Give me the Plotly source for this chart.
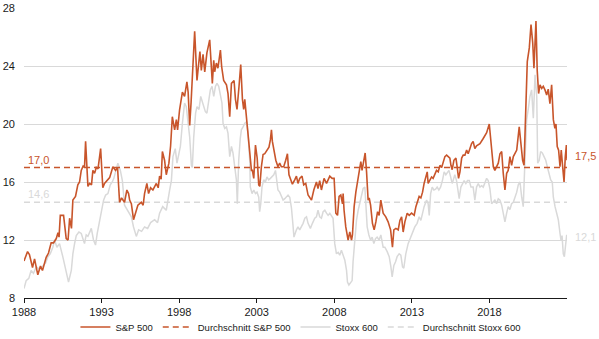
import plotly.graph_objects as go

# ---------------- data (decimal years, P/E values) ----------------
sp_years = [
    1988.00, 1988.23, 1988.35, 1988.55, 1988.68, 1988.89, 1989.06, 1989.19, 1989.43, 1989.58,
    1989.75, 1989.90, 1990.08, 1990.19, 1990.26, 1990.34, 1990.55, 1990.72, 1990.84, 1990.94,
    1991.06, 1991.15, 1991.32, 1991.47, 1991.58, 1991.69, 1991.81, 1991.90, 1991.97, 1992.12,
    1992.23, 1992.35, 1992.44, 1992.55, 1992.66, 1992.77, 1992.94, 1993.08, 1993.19, 1993.39,
    1993.52, 1993.73, 1993.90, 1994.03, 1994.16, 1994.29, 1994.48, 1994.63, 1994.74, 1994.81,
    1994.92, 1995.06, 1995.19, 1995.34, 1995.56, 1995.68, 1995.77, 1995.92, 1996.03, 1996.16,
    1996.31, 1996.53, 1996.65, 1996.74, 1996.84, 1996.92, 1997.06, 1997.17, 1997.34, 1997.45,
    1997.56, 1997.71, 1997.82, 1997.90, 1998.03, 1998.21, 1998.35, 1998.50, 1998.58, 1998.68,
    1998.77, 1998.85, 1999.00, 1999.15, 1999.25, 1999.34, 1999.43, 1999.54, 1999.65, 1999.79,
    1999.97, 2000.03, 2000.14, 2000.23, 2000.29, 2000.40, 2000.50, 2000.66, 2000.74, 2000.87,
    2001.05, 2001.15, 2001.26, 2001.37, 2001.54, 2001.63, 2001.73, 2001.86, 2001.97, 2002.08,
    2002.16, 2002.23, 2002.34, 2002.48, 2002.55, 2002.66, 2002.72, 2002.81, 2002.92, 2003.03,
    2003.13, 2003.20, 2003.30, 2003.41, 2003.52, 2003.69, 2003.79, 2003.88, 2003.95, 2004.01,
    2004.10, 2004.23, 2004.37, 2004.48, 2004.59, 2004.74, 2004.87, 2004.98, 2005.08, 2005.17,
    2005.30, 2005.45, 2005.56, 2005.66, 2005.77, 2005.92, 2006.03, 2006.16, 2006.31, 2006.53,
    2006.68, 2006.85, 2006.95, 2007.06, 2007.17, 2007.34, 2007.50, 2007.71, 2007.86, 2007.99,
    2008.10, 2008.21, 2008.31, 2008.42, 2008.53, 2008.57, 2008.63, 2008.74, 2008.89, 2009.00,
    2009.11, 2009.17, 2009.28, 2009.39, 2009.50, 2009.60, 2009.71, 2009.79, 2009.90, 2009.99,
    2010.08, 2010.18, 2010.25, 2010.34, 2010.46, 2010.57, 2010.68, 2010.79, 2010.89, 2011.00,
    2011.15, 2011.32, 2011.47, 2011.63, 2011.75, 2011.84, 2011.97, 2012.12, 2012.23, 2012.34,
    2012.44, 2012.55, 2012.70, 2012.83, 2012.98, 2013.15, 2013.26, 2013.37, 2013.47, 2013.58,
    2013.69, 2013.79, 2013.90, 2013.99, 2014.05, 2014.16, 2014.27, 2014.37, 2014.48, 2014.59,
    2014.70, 2014.81, 2014.92, 2015.02, 2015.13, 2015.24, 2015.34, 2015.45, 2015.52, 2015.60,
    2015.71, 2015.84, 2015.92, 2016.01, 2016.10, 2016.21, 2016.31, 2016.42, 2016.53, 2016.63,
    2016.74, 2016.85, 2016.95, 2017.06, 2017.17, 2017.39, 2017.60, 2017.82, 2017.99, 2018.07,
    2018.16, 2018.25, 2018.35, 2018.46, 2018.57, 2018.68, 2018.79, 2018.89, 2019.00, 2019.11,
    2019.21, 2019.32, 2019.43, 2019.54, 2019.65, 2019.76, 2019.92, 2020.01, 2020.14, 2020.23,
    2020.35, 2020.44, 2020.57, 2020.68, 2020.79, 2020.87, 2021.00, 2021.08, 2021.17, 2021.26,
    2021.37, 2021.47, 2021.58, 2021.69, 2021.79, 2021.90, 2022.01, 2022.12, 2022.22, 2022.29,
    2022.37, 2022.46, 2022.55, 2022.63, 2022.72, 2022.81, 2022.89, 2022.96, 2023.00,
]
sp_values = [
    10.56, 11.2, 11.0, 10.1, 10.7, 9.6, 10.2, 9.9, 10.8, 11.1,
    11.8, 11.8, 12.1, 12.5, 12.2, 13.7, 13.7, 12.1, 12.0, 13.5,
    12.8, 14.75, 15.0, 15.8, 16.0, 16.8, 17.1, 17.0, 18.8, 15.7,
    15.9, 15.8, 16.8, 16.6, 17.0, 16.9, 18.3, 15.6, 15.9, 16.1,
    16.3, 17.05, 16.8, 17.0, 14.6, 14.9, 14.6, 15.45, 15.2, 14.75,
    14.5, 13.4, 13.8, 14.4, 14.6, 14.4, 15.2, 15.9, 15.2, 15.6,
    15.45, 15.9, 15.6, 16.4, 16.2, 18.1, 17.5, 16.5, 17.3, 18.5,
    20.5, 19.6, 20.3, 19.6, 21.0, 22.2, 21.9, 22.9, 22.2, 19.9,
    21.5, 23.5, 26.4, 23.0, 23.9, 25.0, 23.7, 24.8, 23.6, 24.9,
    25.8, 24.65, 22.8, 24.4, 23.6, 24.2, 23.85, 25.1, 23.96, 23.0,
    22.7, 22.1, 20.5, 22.8, 23.0, 21.7, 21.0, 22.6, 24.1, 21.7,
    21.0, 21.7, 20.3, 18.9, 17.75, 16.8, 16.8, 16.25, 18.55, 17.65,
    15.8, 15.7, 17.05, 17.9, 17.95, 18.2, 18.4, 18.9, 19.6, 18.8,
    18.3, 17.5, 17.05, 17.3, 17.05, 17.05, 17.5, 17.95, 16.5, 16.25,
    15.85, 16.15, 16.4, 15.9, 16.25, 16.4, 15.8, 15.9, 15.1, 14.75,
    15.45, 16.0, 15.55, 16.1, 15.45, 16.25, 15.9, 16.4, 16.25, 16.25,
    13.85, 13.7, 15.0, 15.1, 14.5, 15.2, 14.05, 12.9, 12.0, 12.55,
    12.0, 12.35, 14.3, 15.3, 16.15, 16.7, 17.4, 16.8, 17.6, 18.0,
    16.7, 14.75, 14.9, 14.4, 13.15, 12.7, 13.25, 13.95, 13.7, 14.75,
    13.85, 13.6, 13.25, 12.7, 11.5, 12.7, 12.8, 12.7, 13.35, 13.6,
    12.55, 13.25, 13.85, 13.7, 13.85, 13.7, 14.3, 14.75, 15.0, 14.9,
    15.3, 15.9, 16.35, 16.7, 15.9, 16.15, 16.35, 16.25, 16.6, 16.8,
    16.7, 17.15, 17.0, 17.3, 17.75, 17.85, 17.75, 17.65, 17.15, 16.85,
    17.5, 17.65, 17.05, 16.25, 16.7, 17.65, 17.85, 17.85, 18.2, 17.95,
    18.3, 18.65, 18.8, 18.3, 18.5, 18.65, 19.0, 19.4, 20.0, 19.1,
    17.75, 17.05, 16.8, 17.05, 17.3, 17.95, 18.1, 16.6, 15.45, 16.6,
    16.8, 17.75, 17.15, 17.75, 17.95, 18.2, 19.8, 18.9, 17.5, 17.15,
    21.7, 24.3, 25.25, 26.85, 25.6, 23.85, 27.1, 23.7, 22.1, 22.7,
    22.45, 22.6, 22.35, 22.0, 22.4, 21.4, 22.7, 20.3, 19.7, 20.0,
    18.45, 18.2, 17.05, 18.2, 17.05, 16.0, 17.75, 18.55, 17.5,
]

stoxx_years = [
    1988.00, 1988.14, 1988.31, 1988.46, 1988.61, 1988.79, 1989.00, 1989.21, 1989.39, 1989.54,
    1989.69, 1989.86, 1989.97, 1990.12, 1990.29, 1990.50, 1990.72, 1990.87, 1991.05, 1991.15,
    1991.26, 1991.37, 1991.54, 1991.69, 1991.90, 1992.01, 1992.12, 1992.23, 1992.34, 1992.48,
    1992.61, 1992.72, 1992.87, 1993.02, 1993.13, 1993.26, 1993.41, 1993.56, 1993.69, 1993.79,
    1993.94, 1994.05, 1994.21, 1994.34, 1994.48, 1994.70, 1994.92, 1995.06, 1995.24, 1995.39,
    1995.58, 1995.77, 1995.97, 1996.16, 1996.42, 1996.61, 1996.74, 1996.94, 1997.17, 1997.39,
    1997.50, 1997.60, 1997.75, 1997.86, 1997.97, 1998.08, 1998.21, 1998.35, 1998.46, 1998.57,
    1998.68, 1998.79, 1998.85, 1998.94, 1999.06, 1999.15, 1999.28, 1999.39, 1999.54, 1999.69,
    1999.79, 1999.90, 2000.01, 2000.12, 2000.23, 2000.34, 2000.44, 2000.55, 2000.66, 2000.76,
    2000.83, 2000.94, 2001.05, 2001.15, 2001.26, 2001.37, 2001.47, 2001.58, 2001.69, 2001.75,
    2001.84, 2001.94, 2002.01, 2002.12, 2002.23, 2002.34, 2002.44, 2002.55, 2002.59, 2002.70,
    2002.81, 2002.92, 2003.02, 2003.13, 2003.19, 2003.26, 2003.34, 2003.45, 2003.56, 2003.66,
    2003.77, 2003.88, 2003.99, 2004.10, 2004.21, 2004.27, 2004.37, 2004.48, 2004.59, 2004.70,
    2004.81, 2004.92, 2005.02, 2005.13, 2005.24, 2005.34, 2005.40, 2005.56, 2005.66, 2005.77,
    2005.88, 2005.99, 2006.10, 2006.21, 2006.31, 2006.46, 2006.59, 2006.74, 2006.85, 2006.95,
    2007.06, 2007.17, 2007.28, 2007.39, 2007.50, 2007.60, 2007.71, 2007.82, 2007.92, 2008.03,
    2008.14, 2008.25, 2008.35, 2008.46, 2008.57, 2008.68, 2008.79, 2008.85, 2008.94, 2009.05,
    2009.15, 2009.21, 2009.32, 2009.43, 2009.54, 2009.65, 2009.75, 2009.86, 2009.97, 2010.03,
    2010.12, 2010.23, 2010.34, 2010.44, 2010.55, 2010.66, 2010.76, 2010.89, 2011.00, 2011.15,
    2011.26, 2011.41, 2011.54, 2011.65, 2011.73, 2011.84, 2011.95, 2012.05, 2012.18, 2012.29,
    2012.40, 2012.48, 2012.61, 2012.76, 2012.92, 2013.05, 2013.19, 2013.34, 2013.47, 2013.58,
    2013.69, 2013.79, 2013.95, 2014.05, 2014.12, 2014.21, 2014.31, 2014.42, 2014.53, 2014.63,
    2014.74, 2014.85, 2014.98, 2015.08, 2015.19, 2015.30, 2015.39, 2015.50, 2015.60, 2015.66,
    2015.77, 2015.88, 2015.99, 2016.05, 2016.16, 2016.27, 2016.37, 2016.48, 2016.59, 2016.70,
    2016.81, 2016.95, 2017.06, 2017.17, 2017.28, 2017.39, 2017.50, 2017.60, 2017.71, 2017.82,
    2017.92, 2018.03, 2018.14, 2018.25, 2018.35, 2018.46, 2018.57, 2018.68, 2018.79, 2018.89,
    2019.00, 2019.11, 2019.21, 2019.32, 2019.43, 2019.54, 2019.65, 2019.76, 2019.86, 2019.97,
    2020.08, 2020.18, 2020.29, 2020.40, 2020.50, 2020.61, 2020.72, 2020.83, 2020.94, 2021.05,
    2021.11, 2021.21, 2021.30, 2021.41, 2021.52, 2021.63, 2021.73, 2021.84, 2021.95, 2022.05,
    2022.12, 2022.23, 2022.34, 2022.44, 2022.55, 2022.61, 2022.68, 2022.76, 2022.83, 2022.92,
    2022.98, 2023.00,
]
stoxx_values = [
    8.65, 9.2, 9.35, 9.9, 9.7, 10.15, 10.0, 10.25, 10.4, 10.85,
    11.05, 11.5, 12.0, 11.5, 11.75, 10.85, 9.7, 9.1, 9.9, 11.05,
    11.75, 12.3, 12.55, 12.45, 11.75, 12.35, 12.25, 12.55, 12.8, 12.0,
    11.65, 12.45, 13.35, 14.05, 14.75, 15.1, 15.2, 15.8, 16.0, 16.25,
    16.9, 17.3, 16.8, 16.1, 14.4, 13.95, 13.6, 12.9, 12.25, 12.7,
    12.6, 12.9, 12.8, 13.2, 13.4, 13.2, 13.85, 14.3, 14.05, 15.45,
    16.1, 17.75, 18.3, 17.3, 18.0, 18.45, 20.05, 21.45, 21.2, 20.3,
    19.1, 17.15, 17.0, 19.1, 20.75, 21.2, 21.0, 21.9, 21.3, 20.85,
    20.75, 21.45, 22.35, 22.6, 21.9, 22.6, 22.8, 22.6, 22.1, 21.45,
    20.05, 19.7, 19.8, 19.35, 17.75, 18.45, 18.0, 17.05, 16.15, 14.5,
    17.5, 19.0, 19.6, 19.8, 20.05, 20.15, 19.35, 17.5, 15.65, 15.2,
    15.45, 15.2, 15.3, 14.95, 13.95, 14.5, 15.65, 16.15, 16.0, 16.35,
    16.15, 16.25, 16.35, 16.5, 16.8, 16.25, 15.45, 15.3, 14.95, 14.75,
    14.85, 14.95, 15.1, 14.95, 14.2, 13.0, 12.2, 12.7, 12.9, 12.7,
    12.9, 13.15, 13.5, 13.6, 13.15, 12.8, 13.15, 13.5, 13.6, 14.05,
    13.6, 13.5, 13.95, 14.05, 13.85, 13.7, 13.85, 13.7, 13.5, 11.75,
    11.05, 11.15, 10.95, 11.3, 10.95, 10.6, 9.9, 9.1, 8.9, 9.1,
    9.2, 10.5, 12.2, 13.35, 14.05, 14.65, 15.2, 15.55, 15.65, 14.75,
    12.9, 12.35, 12.0, 12.2, 11.75, 12.1, 12.2, 12.0, 12.35, 11.5,
    11.5, 11.2, 10.85, 10.15, 9.45, 10.25, 10.5, 10.85, 11.05, 10.95,
    10.15, 10.05, 11.05, 11.75, 12.2, 12.45, 12.9, 13.15, 13.6, 13.35,
    13.85, 14.3, 14.75, 14.5, 13.7, 15.2, 15.65, 15.45, 15.5, 15.65,
    15.45, 15.65, 16.15, 16.7, 16.5, 16.7, 16.8, 16.35, 15.9, 16.1,
    16.5, 16.1, 15.45, 14.85, 15.65, 15.9, 16.1, 15.9, 16.1, 16.1,
    15.65, 15.65, 14.75, 15.65, 15.9, 15.65, 15.75, 15.65, 16.0, 16.25,
    16.1, 15.55, 14.5, 14.6, 14.75, 14.5, 14.85, 14.75, 14.4, 13.85,
    13.25, 13.85, 14.3, 14.1, 14.5, 14.6, 14.95, 15.3, 15.8, 16.0,
    14.95, 14.3, 17.5, 20.3, 21.0, 21.9, 22.35, 20.4, 23.4, 21.9,
    17.3, 17.5, 18.1, 18.0, 17.75, 17.5, 17.05, 16.6, 16.15, 16.0,
    14.95, 14.3, 13.85, 13.4, 12.45, 12.0, 12.3, 11.05, 10.85, 12.0,
    12.35, 12.1,
]

sp_avg = 17.0
stoxx_avg = 14.6
x_start, x_end = 1988, 2023
tick_years = [1988, 1993, 1998, 2003, 2008, 2013, 2018]
tick_labels = [str(t) for t in tick_years]

names = ["S&P 500", "Durchschnitt S&P 500", "Stoxx 600", "Durchschnitt Stoxx 600"]

# ---------------- style ----------------
ORANGE = "#C8552B"
GRAY = "#D9D9D9"
FONT = "Liberation Sans, Arial, sans-serif"


def de(v):
    return f"{v:.1f}".replace(".", ",")


fig = go.Figure()

fig.add_trace(go.Scatter(
    x=stoxx_years, y=stoxx_values, mode="lines", name=names[2],
    line=dict(color=GRAY, width=1.5), legendrank=3,
))
fig.add_trace(go.Scatter(
    x=[x_start, x_end], y=[stoxx_avg, stoxx_avg], mode="lines", name=names[3],
    line=dict(color=GRAY, width=1.5, dash="6px,4px"), legendrank=4,
))
fig.add_trace(go.Scatter(
    x=[x_start, x_end], y=[sp_avg, sp_avg], mode="lines", name=names[1],
    line=dict(color=ORANGE, width=1.5, dash="6px,4px"), legendrank=2,
))
fig.add_trace(go.Scatter(
    x=sp_years, y=sp_values, mode="lines", name=names[0],
    line=dict(color=ORANGE, width=1.6), legendrank=1,
))

annotations = [
    dict(x=x_start, y=sp_avg, xref="x", yref="y", text=de(sp_avg),
         xanchor="left", yanchor="bottom", xshift=2, yshift=0,
         font=dict(color=ORANGE, size=11, family=FONT), showarrow=False),
    dict(x=x_start, y=stoxx_avg, xref="x", yref="y", text=de(stoxx_avg),
         xanchor="left", yanchor="bottom", xshift=2, yshift=0,
         font=dict(color=GRAY, size=11, family=FONT), showarrow=False),
    dict(x=x_end, y=sp_values[-1], xref="x", yref="y", text=de(sp_values[-1]),
         xanchor="left", yanchor="middle", xshift=6, yshift=4,
         font=dict(color=ORANGE, size=11, family=FONT), showarrow=False),
    dict(x=x_end, y=stoxx_values[-1], xref="x", yref="y", text=de(stoxx_values[-1]),
         xanchor="left", yanchor="middle", xshift=6, yshift=2,
         font=dict(color=GRAY, size=11, family=FONT), showarrow=False),
]

fig.update_layout(
    width=599, height=339,
    margin=dict(l=24, r=32, t=8, b=41, autoexpand=False),
    paper_bgcolor="white", plot_bgcolor="white",
    font=dict(family=FONT, size=11, color="#1a1a1a"),
    showlegend=True,
    legend=dict(orientation="h", x=0.51, xanchor="center", y=-0.1, yanchor="middle",
                font=dict(size=9.5, color="#1a1a1a"), itemwidth=30,
                bgcolor="rgba(0,0,0,0)"),
    annotations=annotations,
    xaxis=dict(range=[x_start, x_end], tickmode="array", tickvals=tick_years,
               ticktext=tick_labels, showgrid=False, zeroline=False,
               showline=True, linecolor="#1a1a1a", linewidth=1,
               ticks="outside", ticklen=4, tickcolor="#1a1a1a", tickwidth=1,
               tickfont=dict(size=11, color="#1a1a1a"), automargin=False),
    yaxis=dict(range=[8, 28], tickmode="linear", tick0=8, dtick=4,
               showgrid=True, gridcolor=GRAY, gridwidth=1, zeroline=False,
               showline=False, ticks="", ticklabelstandoff=8, automargin=False,
               tickfont=dict(size=11, color="#1a1a1a")),
)

fig.write_html("out.html")
